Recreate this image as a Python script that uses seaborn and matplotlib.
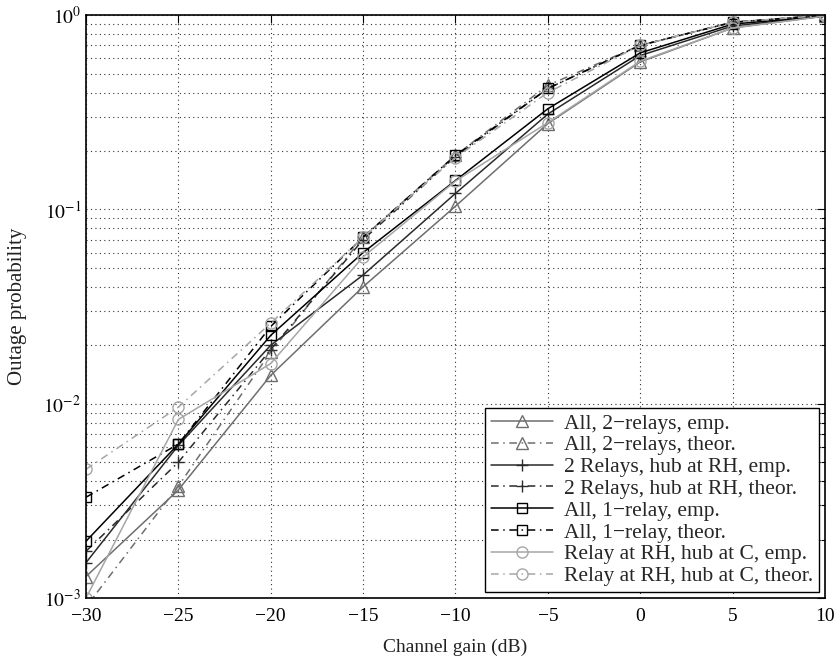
import numpy as np
import pandas as pd
import matplotlib
matplotlib.use("Agg")
import matplotlib.pyplot as plt
import seaborn as sns
from matplotlib.ticker import LogLocator, NullFormatter, FixedLocator

sns.set_theme(style="white")
plt.rcParams['font.family'] = ['Liberation Serif', 'DejaVu Serif']
plt.rcParams['mathtext.fontset'] = 'stix'

gain_db = [-30, -25, -20, -15, -10, -5, 0, 5, 10]

all2_emp   = [1.29e-3, 3.6e-3, 1.40e-2, 4.0e-2, 0.104, 0.277, 0.575, 0.86, 0.99]
all2_theor = [9.0e-4, 3.77e-3, 1.85e-2, 7.2e-2, 0.19, 0.436, 0.70, 0.92, 1.0]
rh2_emp    = [1.52e-3, 6.1e-3, 2.0e-2, 4.6e-2, 0.121, 0.31, 0.62, 0.88, 0.99]
rh2_theor  = [1.74e-3, 5.0e-3, 1.9e-2, 7.0e-2, 0.187, 0.42, 0.70, 0.92, 1.0]
all1_emp   = [1.96e-3, 6.2e-3, 2.25e-2, 6.0e-2, 0.141, 0.33, 0.64, 0.90, 0.99]
all1_theor = [3.3e-3, 6.2e-3, 2.5e-2, 7.2e-2, 0.19, 0.42, 0.70, 0.92, 1.0]
rhc_emp    = [1.0e-3, 8.3e-3, 1.61e-2, 5.7e-2, 0.14, 0.28, 0.58, 0.86, 0.99]
rhc_theor  = [4.6e-3, 9.6e-3, 2.6e-2, 7.2e-2, 0.185, 0.40, 0.70, 0.92, 1.0]

labels = ["All, 2\u2212relays, emp.", "All, 2\u2212relays, theor.",
          "2 Relays, hub at RH, emp.", "2 Relays, hub at RH, theor.",
          "All, 1\u2212relay, emp.", "All, 1\u2212relay, theor.",
          "Relay at RH, hub at C, emp.", "Relay at RH, hub at C, theor."]
series = [all2_emp, all2_theor, rh2_emp, rh2_theor, all1_emp, all1_theor, rhc_emp, rhc_theor]
colors = ["#6e6e6e", "#6e6e6e", "#2a2a2a", "#2a2a2a", "#000000", "#000000", "#a6a6a6", "#a6a6a6"]
markers = ["^", "^", "+", "+", "s", "s", "o", "o"]
styles = ["-", (0, (5, 3, 1, 3)), "-", (0, (5, 3, 1, 3)), "-", (0, (5, 3, 1, 3)), "-", (0, (5, 3, 1, 3))]

fig = plt.figure(figsize=(8.39, 6.62), dpi=100)
ax = fig.add_axes([0.1025, 0.0967, 0.8808, 0.8803])

for vals, lab, c, m, ls in zip(series, labels, colors, markers, styles):
    df = pd.DataFrame({"gain": gain_db, "p": vals})
    sns.lineplot(data=df, x="gain", y="p", ax=ax, color=c, linestyle=ls, linewidth=1.1,
                 marker=m, markersize=8 if m != "s" else 7, markerfacecolor="none",
                 markeredgecolor=c, markeredgewidth=1.0, label=lab)

ax.set_yscale("log")
ax.set_xlim(-30, 10)
ax.set_ylim(1e-3, 1)
ax.xaxis.set_major_locator(FixedLocator([-30, -25, -20, -15, -10, -5, 0, 5, 10]))
ax.set_xticklabels(["\u221230", "\u221225", "\u221220", "\u221215", "\u221210", "\u22125", "0", "5", "10"])
ax.yaxis.set_major_locator(FixedLocator([1e-3, 1e-2, 1e-1, 1]))
ax.set_yticklabels([r"$10^{-3}$", r"$10^{-2}$", r"$10^{-1}$", r"$10^{0}$"])
ax.yaxis.set_minor_locator(LogLocator(base=10, subs=np.arange(2, 10)))
ax.yaxis.set_minor_formatter(NullFormatter())

ax.grid(True, which="major", axis="both", linestyle=(0, (1, 3)), color="#333333", linewidth=0.8)
ax.grid(True, which="minor", axis="y", linestyle=(0, (1, 3)), color="#333333", linewidth=0.8)
ax.tick_params(axis="both", which="both", direction="in", top=True, right=True,
               labelsize=14, colors="black")
ax.tick_params(axis="x", which="major", pad=7)
ax.tick_params(which="major", length=6, width=0.8)
ax.tick_params(which="minor", length=3, width=0.8)
for s in ax.spines.values():
    s.set_color("black")
    s.set_linewidth(1.2)

ax.set_xlabel("Channel gain (dB)", fontsize=14, color="#222222", labelpad=10)
ax.set_ylabel("Outage probability", fontsize=15, color="#222222", labelpad=12)

leg = ax.legend(loc="lower right", fontsize=15.5, frameon=True, fancybox=False,
                framealpha=1, edgecolor="black", borderpad=0.25, labelspacing=0.08,
                handlelength=2.9, handletextpad=0.5, borderaxespad=0.3)
leg.get_frame().set_linewidth(1.0)

fig.savefig("out.png", dpi=100)
